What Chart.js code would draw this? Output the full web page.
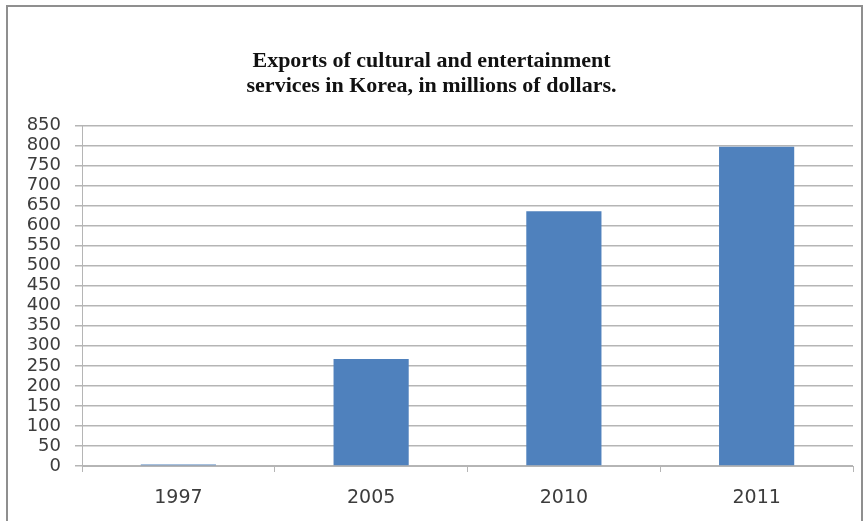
<!DOCTYPE html>
<html>
<head>
<meta charset="utf-8">
<script src="https://cdn.jsdelivr.net/npm/chart.js@4"></script>
<style>
  html, body { margin: 0; padding: 0; background: #fff; }
  #wrap { position: relative; width: 864px; height: 521px; }
  #frame { position: absolute; left: 6px; top: 5px; width: 853px; height: 530px;
           border: 2px solid #8f8f8f; }
  canvas { position: absolute; left: 0; top: 0; }
</style>
</head>
<body>
<div id="wrap">
  <div id="frame"></div>
  <canvas id="chart" width="864" height="521"></canvas>
</div>
<script>
// данные графика
const years = ["1997", "2005", "2010", "2011"];
const exportsMln = [4, 267, 636, 797];
const titleLines = ["Exports of cultural and entertainment", "services in Korea, in millions of dollars."];
const yMin = 0, yMax = 850, yStep = 50;

const gridColor = '#b5b5b5';
const tickColor = '#3c3c3c';

const ctx = document.getElementById('chart').getContext('2d');
new Chart(ctx, {
  type: 'bar',
  data: {
    labels: years,
    datasets: [{
      data: exportsMln,
      backgroundColor: '#4f81bd',
      borderWidth: 0,
      categoryPercentage: 1,
      barPercentage: 0.39
    }]
  },
  options: {
    responsive: false,
    animation: false,
    layout: { padding: { left: 10, right: 11, top: 5, bottom: 0 } },
    plugins: {
      legend: { display: false },
      tooltip: { enabled: false },
      title: {
        display: true,
        text: titleLines,
        color: '#111',
        font: { family: 'Liberation Serif', weight: 'bold', size: 22, lineHeight: 1.17 },
        padding: { top: 43, bottom: 26 }
      }
    },
    scales: {
      x: {
        offset: true,
        grid: { display: true, drawOnChartArea: false, drawTicks: true, tickLength: 6, color: gridColor, offset: true },
        border: { color: gridColor },
        ticks: { color: tickColor, font: { family: 'DejaVu Sans', size: 19 }, padding: 15 },
        afterFit: s => { s.height = 55; }
      },
      y: {
        min: yMin,
        max: yMax,
        ticks: { stepSize: yStep, autoSkip: false, color: tickColor, font: { family: 'DejaVu Sans', size: 18 }, padding: 14 },
        grid: { color: gridColor, lineWidth: 1.5, tickLength: 7 },
        border: { color: gridColor },
        afterFit: s => { s.width = 72; }
      }
    }
  }
});
</script>
</body>
</html>
